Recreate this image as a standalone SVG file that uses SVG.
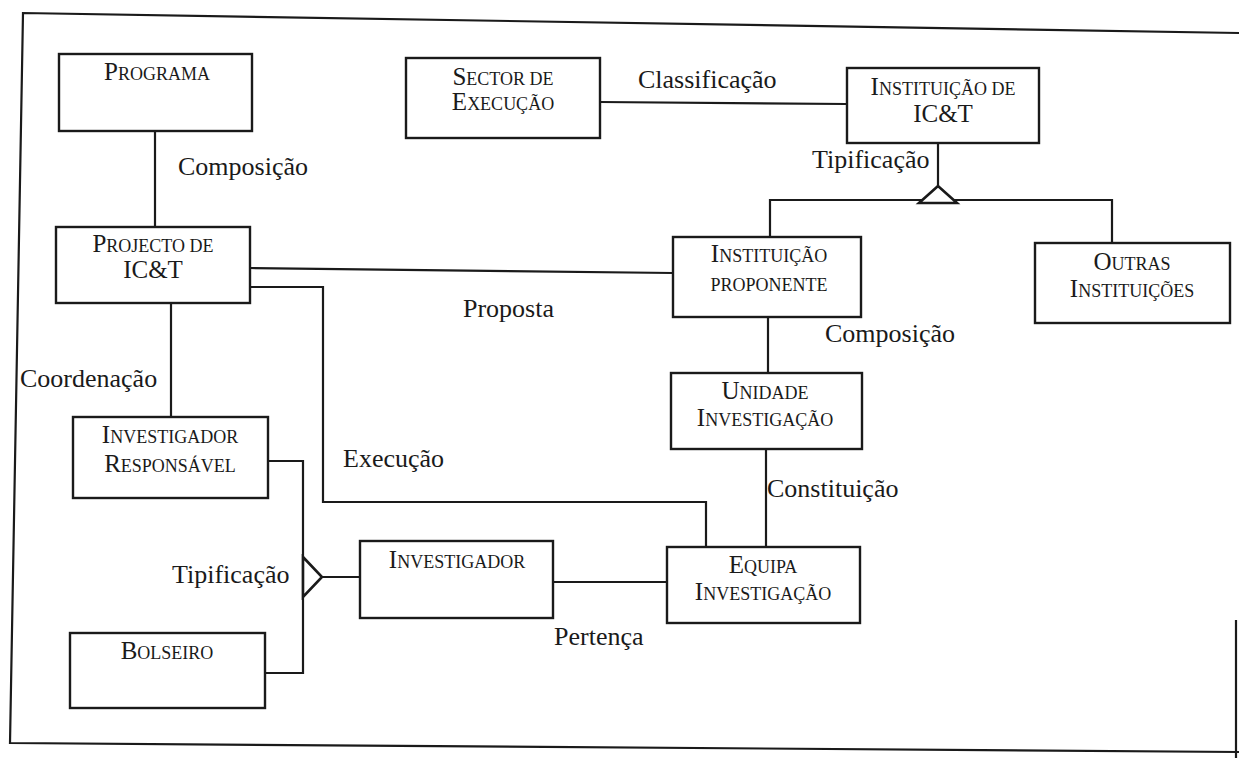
<svg xmlns="http://www.w3.org/2000/svg" width="1239" height="758" viewBox="0 0 1239 758">
<style>
.bg{fill:#ffffff}
.frame{fill:none;stroke:#1a1a1a;stroke-width:2.2}
.box{fill:#ffffff;stroke:#1a1a1a;stroke-width:2.4}
.ln{fill:none;stroke:#1a1a1a;stroke-width:2.2}
.tri{fill:#ffffff;stroke:#1a1a1a;stroke-width:2.6;stroke-linejoin:miter}
.nt{font-family:"Liberation Serif","Times New Roman",serif;font-size:18px;fill:#1a1a1a;text-anchor:middle}
.c{font-size:25px}
.lb{font-family:"Liberation Serif","Times New Roman",serif;font-size:26px;fill:#1a1a1a}
</style>
<rect class="bg" x="0" y="0" width="1239" height="758"/>
<path class="frame" d="M1239,33 L23,13 L10,743 L1239,752 M1236,620 L1236,758"/>

<g id="connectors">
<path class="ln" d="M155,131 V227"/>
<path class="ln" d="M600,102 L847,104"/>
<path class="ln" d="M938,143 V186"/>
<path class="ln" d="M770,237 V200 H1112 V243"/>
<polygon class="tri" points="938,186 919,203 957,203"/>
<path class="ln" d="M250,268 L673,273"/>
<path class="ln" d="M250,287 H323 V502 H706 V547"/>
<path class="ln" d="M768,317 V373"/>
<path class="ln" d="M766,449 V547"/>
<path class="ln" d="M171,303 V417"/>
<path class="ln" d="M268,461 H303 V673 H265"/>
<polygon class="tri" points="303,557 322,577 303,597"/>
<path class="ln" d="M322,577 H360"/>
<path class="ln" d="M553,582 H667"/>
<text class="lb" x="178" y="175">Composição</text>
<text class="lb" x="638" y="88">Classificação</text>
<text class="lb" x="812" y="168">Tipificação</text>
<text class="lb" x="463" y="317">Proposta</text>
<text class="lb" x="825" y="342">Composição</text>
<text class="lb" x="20" y="387">Coordenação</text>
<text class="lb" x="343" y="467">Execução</text>
<text class="lb" x="767" y="497">Constituição</text>
<text class="lb" x="172" y="583">Tipificação</text>
<text class="lb" x="554" y="645">Pertença</text>
</g>

<g id="programa">
<rect class="box" x="59" y="54" width="193" height="77"/>
<text class="nt" x="157" y="80"><tspan class="c">P</tspan>ROGRAMA</text>
</g>
<g id="projecto">
<rect class="box" x="56" y="227" width="194" height="76"/>
<text class="nt" x="153" y="252"><tspan class="c">P</tspan>ROJECTO DE</text>
<text class="nt" x="153" y="278"><tspan class="c">IC&amp;T</tspan></text>
</g>
<g id="sector">
<rect class="box" x="406" y="58" width="194" height="80"/>
<text class="nt" x="503" y="85"><tspan class="c">S</tspan>ECTOR DE</text>
<text class="nt" x="503" y="110"><tspan class="c">E</tspan>XECUÇÃO</text>
</g>
<g id="instituicao-ict">
<rect class="box" x="847" y="68" width="192" height="75"/>
<text class="nt" x="943" y="95"><tspan class="c">I</tspan>NSTITUIÇÃO DE</text>
<text class="nt" x="943" y="122"><tspan class="c">IC&amp;T</tspan></text>
</g>
<g id="instituicao-proponente">
<rect class="box" x="673" y="237" width="188" height="80"/>
<text class="nt" x="769" y="262"><tspan class="c">I</tspan>NSTITUIÇÃO</text>
<text class="nt" x="769" y="291">PROPONENTE</text>
</g>
<g id="outras">
<rect class="box" x="1035" y="243" width="195" height="80"/>
<text class="nt" x="1132" y="270"><tspan class="c">O</tspan>UTRAS</text>
<text class="nt" x="1132" y="297"><tspan class="c">I</tspan>NSTITUIÇÕES</text>
</g>
<g id="unidade">
<rect class="box" x="671" y="373" width="191" height="76"/>
<text class="nt" x="765" y="399"><tspan class="c">U</tspan>NIDADE</text>
<text class="nt" x="765" y="426"><tspan class="c">I</tspan>NVESTIGAÇÃO</text>
</g>
<g id="equipa">
<rect class="box" x="667" y="547" width="193" height="76"/>
<text class="nt" x="763" y="573"><tspan class="c">E</tspan>QUIPA</text>
<text class="nt" x="763" y="600"><tspan class="c">I</tspan>NVESTIGAÇÃO</text>
</g>
<g id="investigador-responsavel">
<rect class="box" x="73" y="417" width="195" height="81"/>
<text class="nt" x="170" y="443"><tspan class="c">I</tspan>NVESTIGADOR</text>
<text class="nt" x="170" y="472"><tspan class="c">R</tspan>ESPONSÁVEL</text>
</g>
<g id="investigador">
<rect class="box" x="360" y="541" width="193" height="77"/>
<text class="nt" x="457" y="568"><tspan class="c">I</tspan>NVESTIGADOR</text>
</g>
<g id="bolseiro">
<rect class="box" x="70" y="633" width="195" height="75"/>
<text class="nt" x="167" y="659"><tspan class="c">B</tspan>OLSEIRO</text>
</g>
</svg>
